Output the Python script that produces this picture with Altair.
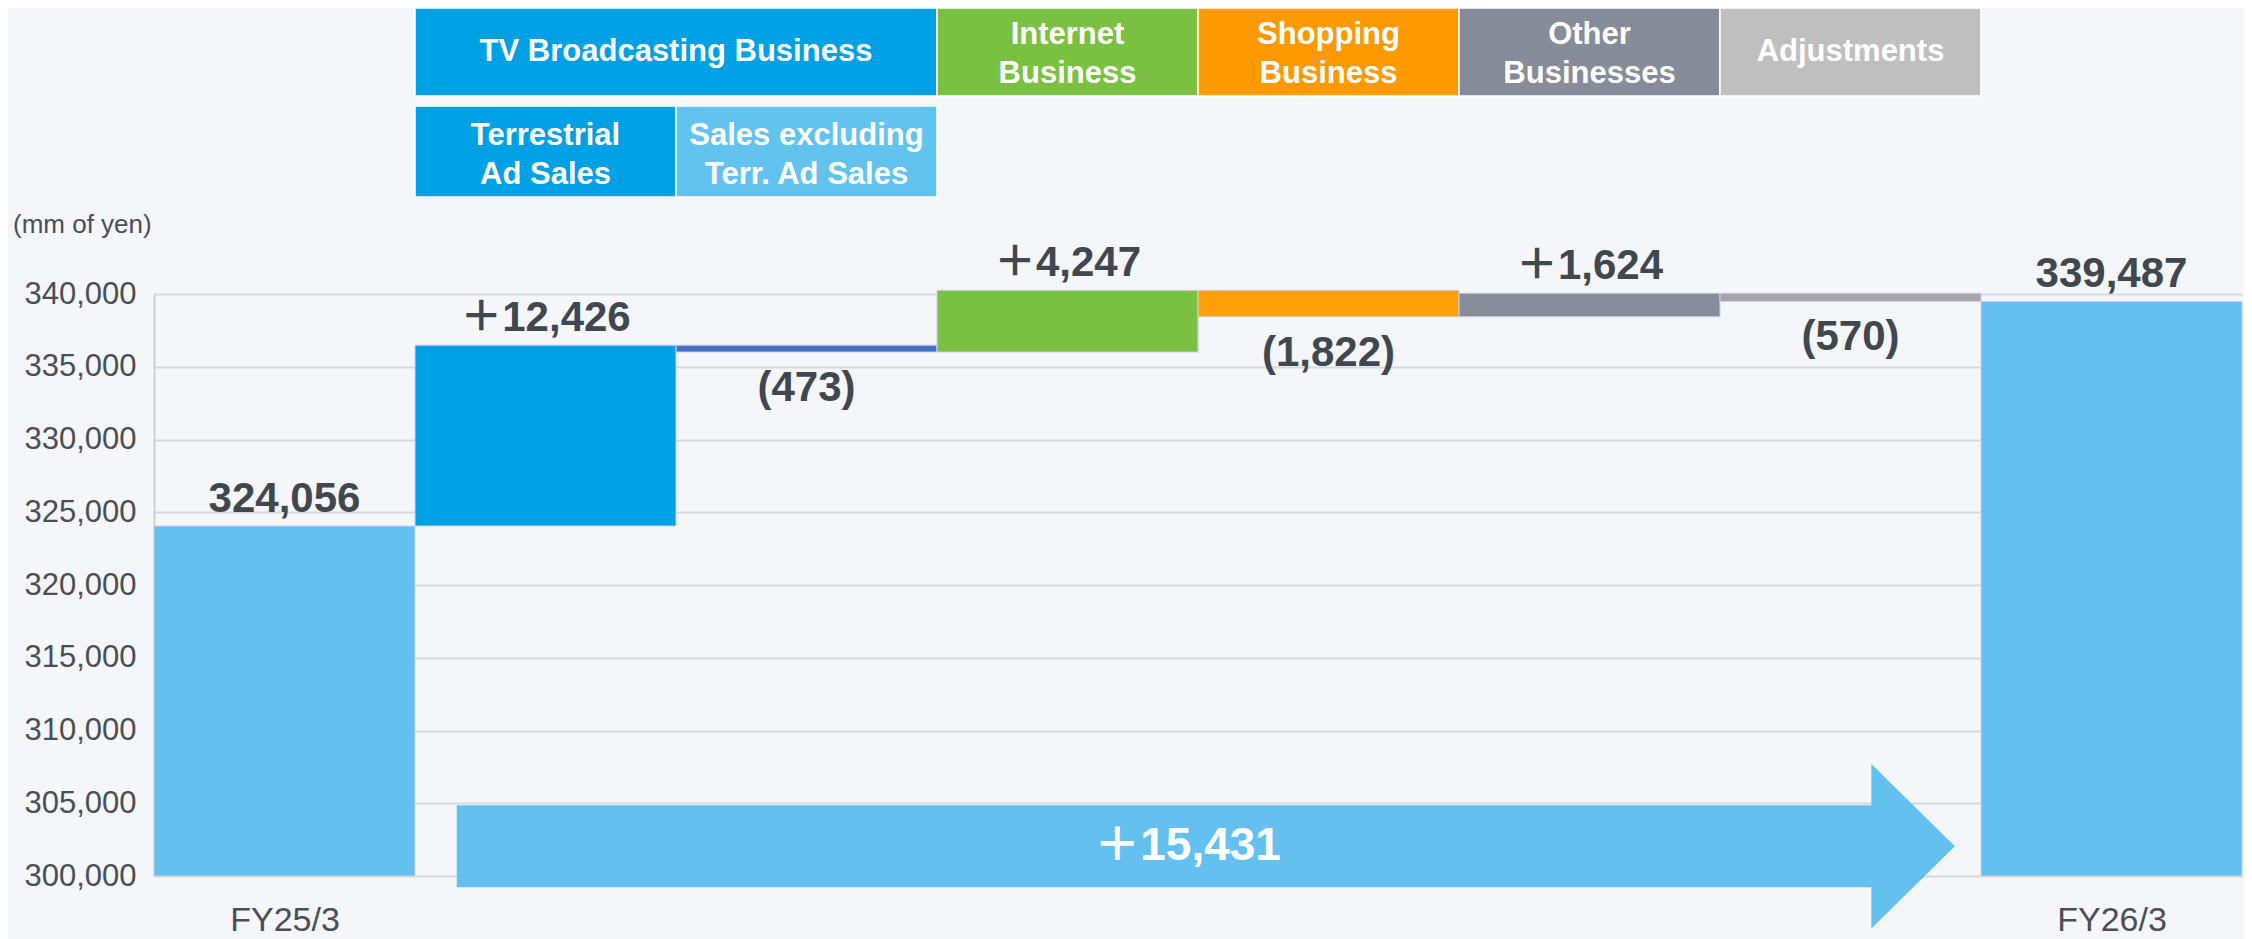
import altair as alt
import pandas as pd

# ---------------- data ----------------
categories = ["FY25/3", "Terrestrial Ad Sales", "Sales excluding Terr. Ad Sales",
              "Internet Business", "Shopping Business", "Other Businesses",
              "Adjustments", "FY26/3"]
values = [324056, 12426, -473, 4247, -1822, 1624, -570, 339487]
value_labels = ["324,056", "＋12,426", "(473)", "＋4,247", "(1,822)", "＋1,624", "(570)", "339,487"]
bar_colors = ["#5CBEEE", "#00A0E4", "#4472C4", "#7AC143", "#FFA00A", "#878D9A", "#A6A6A6", "#5CBEEE"]

header_names = ["TV Broadcasting Business", "Internet\nBusiness", "Shopping\nBusiness",
                "Other\nBusinesses", "Adjustments", "Terrestrial\nAd Sales",
                "Sales excluding\nTerr. Ad Sales"]
header_first = [1, 3, 4, 5, 6, 1, 2]
header_last = [2, 3, 4, 5, 6, 1, 2]
header_row = [1, 1, 1, 1, 1, 2, 2]
header_colors = ["#00A0E4", "#7AC143", "#FF9900", "#868C99", "#BFBFBF", "#00A0E4", "#63C3EF"]

y_ticks = [300000, 305000, 310000, 315000, 320000, 325000, 330000, 335000, 340000]
x_tick_labels = ["FY25/3", "FY26/3"]
unit_label = "(mm of yen)"

Y_MIN, Y_MAX = 300000, 340000

# ---------------- layout / style ----------------
FONT = "Liberation Sans, Arial, Noto Sans CJK JP, sans-serif"
DARK = "#41474F"
AXIS_TXT = "#4A4F57"
W, H = 2088, 582
LINE_H = 39

# waterfall table
rows = []
running = values[0]
n = len(values)
for i, v in enumerate(values):
    if i == 0 or i == n - 1:
        start, end = Y_MIN, v
    else:
        start, end = running, running + v
        running = end
    rows.append(dict(cat=categories[i], x0=i, x1=i + 1, xc=i + 0.5,
                     start=start, end=end, top=max(start, end), bottom=min(start, end),
                     label=value_labels[i], color=bar_colors[i],
                     neg=(v < 0), total=(i == 0 or i == n - 1)))
bars = pd.DataFrame(rows)

hdr = pd.DataFrame(dict(name=header_names, x0=header_first,
                        x1=[l + 1 for l in header_last],
                        xc=[(f + l + 1) / 2 for f, l in zip(header_first, header_last)],
                        row=header_row, color=header_colors,
                        multi=["\n" in s for s in header_names]))

# total change arrow (annotation)
change = values[-1] - values[0]
ax0, axh, axt = 1.16, 6.58, 6.90
body_lo, body_hi, head_lo, head_hi = 299222, 304868, 296400, 307690
mid = (body_lo + body_hi) / 2
arrow = pd.DataFrame(dict(x=[ax0, axh, axh + 1e-6, axt],
                          lo=[body_lo, body_lo, head_lo, mid],
                          hi=[body_hi, body_hi, head_hi, mid]))
arrow_text = pd.DataFrame(dict(x=[3.96], y=[mid], t=["＋{:,}".format(change)]))
unit_df = pd.DataFrame(dict(t=[unit_label]))

xscale = alt.Scale(domain=[0, 8], nice=False, zero=False)
yscale = alt.Scale(domain=[Y_MIN, Y_MAX], nice=False, zero=False)

x_label_expr = "datum.value < 4 ? '%s' : '%s'" % (x_tick_labels[0], x_tick_labels[1])
y_label_expr = "format(datum.value, ',')"

base_bars = alt.Chart(bars)

bar_layer = base_bars.mark_rect(stroke="#D2CFEA", strokeWidth=1).encode(
    x=alt.X("x0:Q", scale=xscale, title=None,
            axis=alt.Axis(values=[0.5, 7.5], labelExpr=x_label_expr, grid=False,
                          domain=False, ticks=False, labelFontSize=34, labelPadding=27,
                          labelColor=AXIS_TXT, labelFont=FONT, labelFontWeight="normal",
                          title=None)),
    x2="x1:Q",
    y=alt.Y("start:Q", scale=yscale, title=None,
            axis=alt.Axis(values=y_ticks, labelExpr=y_label_expr, title=None,
                          labelFontSize=31, labelPadding=18, labelColor=AXIS_TXT,
                          labelFont=FONT, ticks=False, domainColor="#D0D0D0", domainWidth=2,
                          gridColor="#D9D9D9", gridWidth=2)),
    y2="end:Q",
    color=alt.Color("color:N", scale=None),
    opacity=alt.condition("datum.total", alt.value(0.95), alt.value(1.0)),
)

pos_labels = base_bars.transform_filter("!datum.neg").mark_text(
    font=FONT, fontSize=42, fontWeight="bold", color=DARK, baseline="alphabetic", dy=-14
).encode(x=alt.X("xc:Q", scale=xscale, title=None),
         y=alt.Y("top:Q", scale=yscale, title=None), text="label:N")

neg_labels = base_bars.transform_filter("datum.neg").mark_text(
    font=FONT, fontSize=42, fontWeight="bold", color=DARK, baseline="top", dy=16
).encode(x=alt.X("xc:Q", scale=xscale, title=None),
         y=alt.Y("bottom:Q", scale=yscale, title=None), text="label:N")

arrow_layer = alt.Chart(arrow).mark_area(color="#5CBEEE", opacity=0.95).encode(
    x=alt.X("x:Q", scale=xscale, title=None),
    y=alt.Y("lo:Q", scale=yscale, title=None),
    y2="hi:Q",
)
arrow_label = alt.Chart(arrow_text).mark_text(
    font=FONT, fontSize=46, fontWeight="bold", color="white", baseline="middle"
).encode(x=alt.X("x:Q", scale=xscale, title=None),
         y=alt.Y("y:Q", scale=yscale, title=None), text="t:N")

unit_layer = alt.Chart(unit_df).mark_text(
    font=FONT, fontSize=26, color=AXIS_TXT, align="left", baseline="middle"
).encode(x=alt.value(-141), y=alt.value(-69), text="t:N")

row_px = {1: (-286, -198, -240), 2: (-188, -97, -139)}
header_layers = []
for r, (ytop, ybot, ymid) in row_px.items():
    hb = alt.Chart(hdr).transform_filter("datum.row == %d" % r)
    header_layers.append(hb.mark_rect(stroke="white", strokeWidth=1.5).encode(
        x=alt.X("x0:Q", scale=xscale, title=None), x2="x1:Q",
        y=alt.value(ytop), y2=alt.value(ybot),
        color=alt.Color("color:N", scale=None)))
    for multi, dy in ((False, -2), (True, -LINE_H / 2)):
        cond = "datum.multi" if multi else "!datum.multi"
        header_layers.append(hb.transform_filter(cond).mark_text(
            font=FONT, fontSize=31, fontWeight="bold", color="white", baseline="middle",
            lineBreak="\n", lineHeight=LINE_H, dy=dy
        ).encode(x=alt.X("xc:Q", scale=xscale, title=None), y=alt.value(ymid),
                 text="name:N"))

chart = alt.layer(bar_layer, arrow_layer, arrow_label, pos_labels, neg_labels,
                  unit_layer, *header_layers).properties(
    width=W, height=H,
    padding={"left": 146, "top": 286, "right": 2, "bottom": 63},
    autosize=alt.AutoSizeParams(type="none"),
    background="#F4F6FA",
).configure_view(stroke=None)

chart.save("out.html", embed_options={"renderer": "svg", "actions": False})
